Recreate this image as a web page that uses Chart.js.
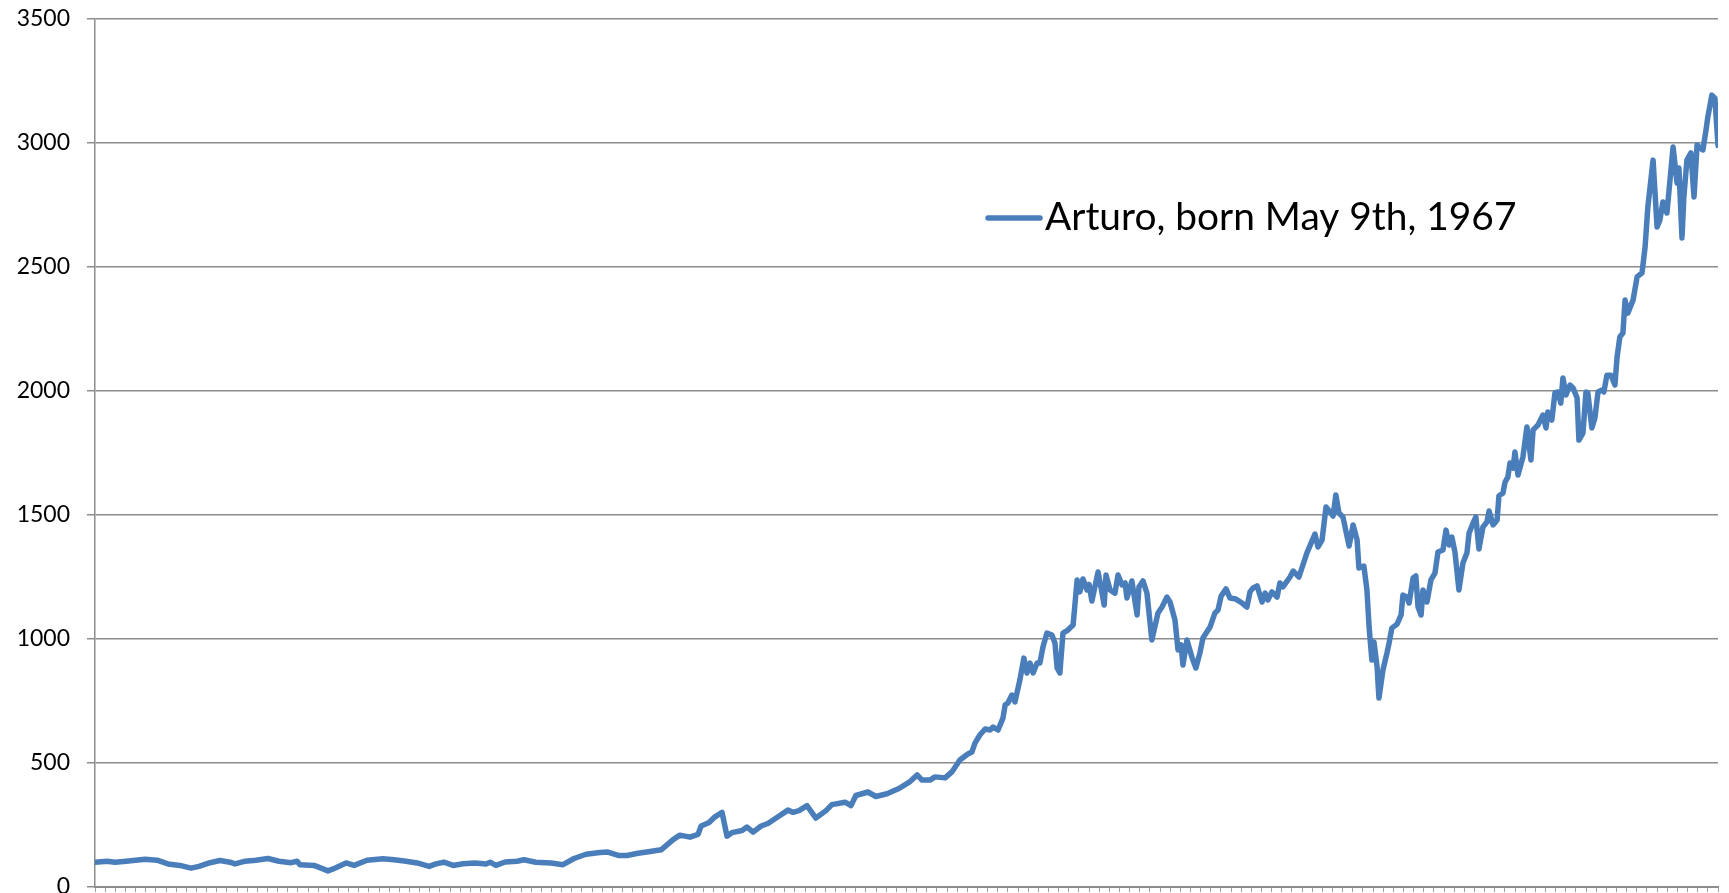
<!DOCTYPE html>
<html>
<head>
<meta charset="utf-8">
<script src="https://cdn.jsdelivr.net/npm/chart.js@4.4.1/dist/chart.umd.min.js"></script>
<style>
  html, body { margin: 0; padding: 0; background: #ffffff; overflow: hidden; }
  #wrap { width: 1729px; height: 893px; }
</style>
</head>
<body>
<div id="wrap"><canvas id="c" width="1729" height="893"></canvas></div>
<script>
// Series label
const seriesLabel = 'Arturo, born May 9th, 1967';

// Time (decimal years) of each read-off point
const years = [
  1967.35,1967.74,1968.00,1968.36,1968.98,1969.37,1969.72,1970.11,1970.47,1970.73,
  1971.09,1971.41,1971.74,1971.90,1972.23,1972.58,1972.97,1973.33,1973.72,1973.92,
  1974.01,1974.47,1974.76,1974.92,1975.09,1975.51,1975.77,1976.19,1976.71,1977.07,
  1977.46,1977.82,1978.21,1978.43,1978.69,1978.99,1979.31,1979.70,1980.06,1980.19,
  1980.38,1980.68,1981.07,1981.29,1981.68,1982.17,1982.56,1982.92,1983.31,1983.76,
  1984.02,1984.38,1984.64,1985.00,1985.39,1985.75,1986.14,1986.36,1986.69,1986.95,
  1987.05,1987.31,1987.50,1987.73,1987.89,1988.05,1988.38,1988.54,1988.74,1989.00,
  1989.22,1989.55,1989.87,1990.04,1990.23,1990.49,1990.78,1991.11,1991.30,1991.73,
  1991.92,1992.08,1992.47,1992.73,1993.09,1993.48,1993.84,1994.07,1994.23,1994.49,
  1994.65,1994.98,1995.20,1995.46,1995.72,1995.85,1995.95,1996.11,1996.28,1996.44,
  1996.54,1996.70,1996.86,1996.93,1997.02,1997.15,1997.25,1997.41,1997.54,1997.64,
  1997.74,1997.84,1997.97,1998.06,1998.16,1998.29,1998.45,1998.55,1998.62,1998.71,
  1998.81,1998.97,1999.14,1999.27,1999.36,1999.46,1999.59,1999.66,1999.75,1999.95,
  2000.05,2000.15,2000.21,2000.34,2000.50,2000.60,2000.73,2000.83,2000.89,2001.05,
  2001.22,2001.28,2001.41,2001.54,2001.70,2001.90,2002.03,2002.19,2002.29,2002.45,
  2002.55,2002.65,2002.71,2002.84,2003.00,2003.13,2003.26,2003.36,2003.59,2003.75,
  2003.85,2003.95,2004.11,2004.24,2004.43,2004.63,2004.79,2004.89,2004.99,2005.12,
  2005.28,2005.38,2005.47,2005.60,2005.77,2005.86,2005.96,2006.19,2006.29,2006.48,
  2006.74,2007.00,2007.10,2007.23,2007.36,2007.49,2007.59,2007.68,2007.78,2007.91,
  2008.11,2008.24,2008.37,2008.43,2008.59,2008.69,2008.76,2008.85,2008.92,2009.02,
  2009.08,2009.21,2009.34,2009.41,2009.50,2009.67,2009.80,2009.86,2009.99,2010.06,
  2010.19,2010.28,2010.35,2010.45,2010.51,2010.64,2010.77,2010.90,2011.00,2011.16,
  2011.26,2011.36,2011.45,2011.55,2011.68,2011.81,2011.94,2012.01,2012.14,2012.23,
  2012.33,2012.46,2012.59,2012.66,2012.79,2012.92,2012.98,2013.11,2013.18,2013.27,
  2013.34,2013.44,2013.50,2013.60,2013.76,2013.89,2014.02,2014.09,2014.25,2014.41,
  2014.51,2014.57,2014.70,2014.80,2014.90,2014.99,2015.06,2015.16,2015.29,2015.39,
  2015.52,2015.58,2015.71,2015.81,2015.87,2016.00,2016.10,2016.20,2016.33,2016.39,
  2016.49,2016.62,2016.75,2016.82,2016.91,2017.01,2017.08,2017.17,2017.34,2017.47,
  2017.63,2017.73,2017.82,2017.99,2018.12,2018.21,2018.31,2018.44,2018.54,2018.64,
  2018.77,2018.83,2018.93,2018.99,2019.09,2019.22,2019.32,2019.42,2019.51,2019.61,
  2019.71,2019.77,2019.90,2020.00,2020.10
];

// Value of the series at each point
const values = [
  100,104,100,104,112,108,93,87,76,83,
  98,107,100,93,104,108,115,104,98,104,
  90,87,73,65,73,97,87,108,114,110,
  104,97,83,93,100,87,94,97,93,100,
  87,101,104,110,100,97,90,115,132,139,
  141,127,127,136,143,150,191,209,201,212,
  246,260,283,301,205,219,228,242,221,246,
  256,283,310,301,308,328,278,308,332,342,
  328,369,383,365,376,397,425,452,431,431,
  444,440,464,512,536,544,580,613,637,633,
  645,633,681,734,742,774,746,835,923,863,
  903,863,903,903,968,1024,1016,984,883,863,
  1024,1036,1056,1238,1190,1242,1198,1220,1153,1270,
  1206,1137,1258,1198,1185,1258,1218,1226,1165,1234,
  1097,1210,1234,1185,996,1105,1129,1169,1149,1077,
  956,976,895,996,927,883,943,1004,1048,1105,
  1117,1173,1202,1165,1161,1145,1129,1190,1206,1214,
  1149,1185,1157,1190,1169,1226,1210,1250,1274,1250,
  1347,1423,1371,1399,1532,1512,1496,1581,1508,1492,
  1375,1460,1399,1286,1294,1198,1048,915,988,887,
  762,875,943,984,1044,1060,1097,1177,1169,1145,
  1246,1254,1129,1097,1198,1149,1238,1266,1351,1359,
  1439,1379,1411,1351,1198,1306,1347,1427,1468,1492,
  1363,1452,1472,1516,1460,1480,1577,1589,1633,1653,
  1710,1689,1754,1661,1734,1855,1722,1843,1863,1903,
  1851,1915,1883,1992,1996,1951,2052,1984,2024,2012,
  1972,1802,1830,1996,1992,1851,1891,1996,2004,1996,
  2064,2064,2024,2137,2218,2234,2367,2314,2367,2460,
  2476,2580,2742,2931,2661,2689,2762,2718,2851,2984,
  2838,2899,2617,2782,2931,2960,2782,2992,2980,2972,
  3052,3105,3193,3181,2990
];

// Value-axis range and tick step
const yMin = 0, yMax = 3500, yStep = 500;
// Time-axis range
const xMin = 1967.35, xMax = 2020.10;

const points = years.map((t, i) => ({ x: t, y: values[i] }));

const GRID = '#8c8c8c';
const LINE = '#4a7ebb';

const floatingLegend = {
  id: 'floatingLegend',
  afterDraw(chart) {
    const ctx = chart.ctx;
    const ds = chart.data.datasets[0];
    ctx.save();
    ctx.strokeStyle = ds.borderColor;
    ctx.lineWidth = 5.5;
    ctx.lineCap = 'round';
    ctx.beginPath();
    ctx.moveTo(988, 218);
    ctx.lineTo(1040, 218);
    ctx.stroke();
    ctx.font = '100px Lato';
    const w100 = ctx.measureText(ds.label).width;
    const size = 100 * 472 / w100;
    ctx.font = size.toFixed(1) + 'px Lato';
    ctx.fillStyle = '#000000';
    ctx.textBaseline = 'alphabetic';
    ctx.textAlign = 'left';
    ctx.fillText(ds.label, 1045, 230);
    ctx.restore();
  }
};

new Chart(document.getElementById('c'), {
  type: 'line',
  data: {
    datasets: [{
      label: seriesLabel,
      data: points,
      borderColor: LINE,
      backgroundColor: LINE,
      borderWidth: 5.5,
      pointRadius: 0,
      pointHoverRadius: 0,
      tension: 0,
      fill: false,
      borderJoinStyle: 'round',
      borderCapStyle: 'round'
    }]
  },
  options: {
    responsive: false,
    animation: false,
    events: [],
    layout: { padding: { top: 19, right: 11, bottom: 0, left: 0 } },
    plugins: {
      legend: { display: false },
      tooltip: { enabled: false },
      title: { display: false }
    },
    scales: {
      x: {
        type: 'linear',
        min: xMin,
        max: xMax,
        ticks: { display: false, count: 161 },
        grid: {
          display: true,
          drawOnChartArea: false,
          drawTicks: true,
          tickLength: 5,
          color: '#a0a0a0',
          lineWidth: 1
        },
        border: { display: true, color: GRID, width: 2 },
        afterFit: (s) => { s.height = 6; s.paddingLeft = 0; s.paddingRight = 0; }
      },
      y: {
        min: yMin,
        max: yMax,
        ticks: {
          stepSize: yStep,
          color: '#000000',
          padding: 17,
          font: { family: 'Lato', size: 23 },
          callback: (v) => String(v)
        },
        grid: {
          color: GRID,
          lineWidth: 1.5,
          drawTicks: true,
          tickLength: 8
        },
        border: { display: true, color: GRID, width: 1.5 },
        afterFit: (s) => { s.width = 95; s.paddingTop = 0; s.paddingBottom = 0; }
      }
    }
  },
  plugins: [floatingLegend]
});
</script>
</body>
</html>
